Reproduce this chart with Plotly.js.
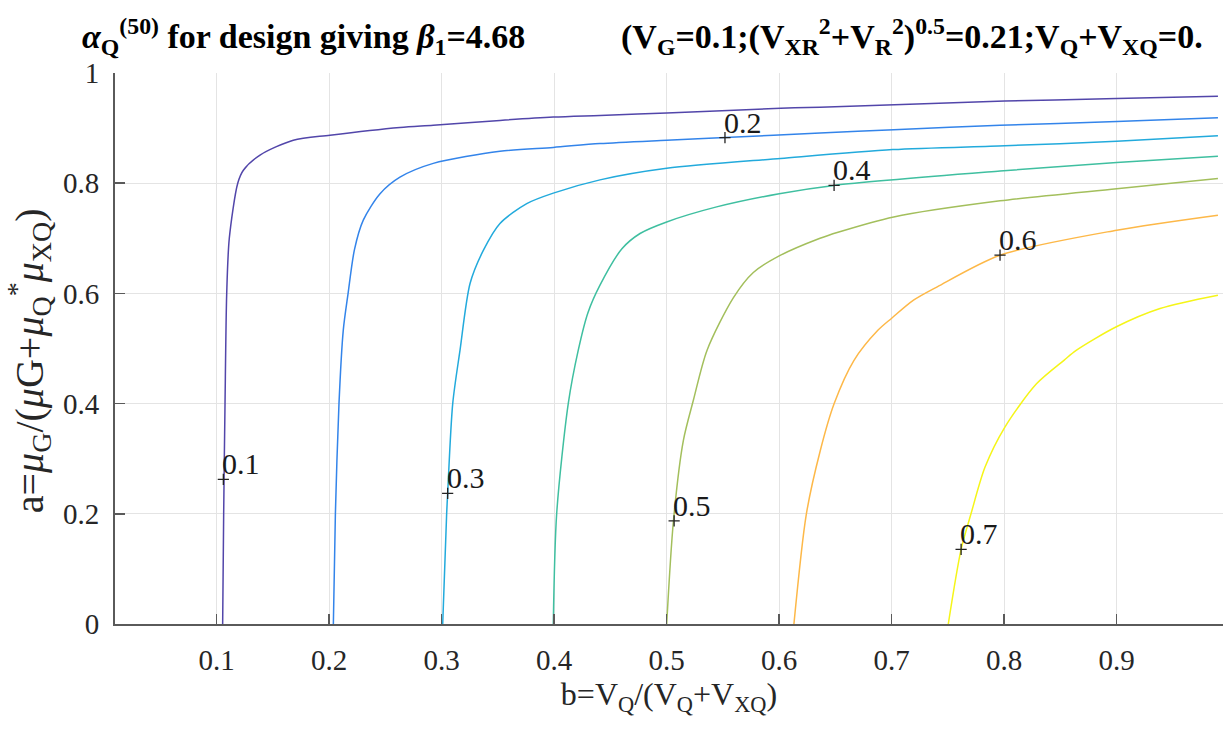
<!DOCTYPE html>
<html>
<head>
<meta charset="utf-8">
<script src="https://cdn.plot.ly/plotly-3.0.1.min.js"></script>
<style>html,body{margin:0;padding:0;background:#fff;}#chart{width:1223px;height:731px;}</style>
</head>
<body>
<div id="chart"></div>
<script>
// Contour levels of alpha_Q^(50) and their colours (parula)
const levels = [0.1, 0.2, 0.3, 0.4, 0.5, 0.6, 0.7];
const levelColors = ['#5246aa', '#3384ea', '#22aadc', '#3fbfa0', '#a3bf5c', '#fdb848', '#f5f518'];

// Contour line points: b (x) and a (y)
const c01_b = [0.1053, 0.1062, 0.1074, 0.1089, 0.1112, 0.1187, 0.1237, 0.1385, 0.1681, 0.2007, 0.2629, 0.2925, 0.3518, 0.3992, 0.4407, 0.5000, 0.6013, 0.6363, 0.8005, 0.9000, 0.9900];
const c01_a = [0.000, 0.200, 0.400, 0.600, 0.700, 0.800, 0.8235, 0.851, 0.878, 0.887, 0.901, 0.905, 0.914, 0.920, 0.923, 0.9275, 0.936, 0.938, 0.949, 0.9535, 0.958];

const c02_b = [0.2037, 0.2055, 0.2087, 0.2125, 0.2168, 0.2225, 0.2303, 0.2452, 0.2629, 0.2925, 0.3518, 0.3992, 0.4407, 0.5000, 0.5518, 0.6363, 0.7018, 0.7963, 0.9000, 0.9900];
const c02_a = [0.000, 0.200, 0.400, 0.533, 0.600, 0.680, 0.733, 0.781, 0.811, 0.836, 0.858, 0.865, 0.872, 0.878, 0.8828, 0.891, 0.897, 0.905, 0.912, 0.919];

const c03_b = [0.3009, 0.3044, 0.3053, 0.3098, 0.3163, 0.3252, 0.3370, 0.3518, 0.3756, 0.3992, 0.4407, 0.5000, 0.6013, 0.7010, 0.8005, 0.9000, 0.9900];
const c03_a = [0.000, 0.200, 0.237, 0.400, 0.497, 0.618, 0.678, 0.727, 0.763, 0.782, 0.806, 0.827, 0.845, 0.861, 0.868, 0.876, 0.886];

const c04_b = [0.3992, 0.4022, 0.4125, 0.4214, 0.4300, 0.4407, 0.4602, 0.4763, 0.5000, 0.5444, 0.6000, 0.6488, 0.7963, 0.9000, 0.9900];
const c04_a = [0.000, 0.200, 0.400, 0.497, 0.565, 0.615, 0.681, 0.7087, 0.7297, 0.757, 0.781, 0.796, 0.822, 0.8375, 0.849];

const c05_b = [0.5000, 0.5060, 0.5148, 0.5237, 0.5359, 0.5592, 0.5770, 0.6000, 0.6363, 0.6523, 0.7018, 0.7963, 0.9000, 0.9900];
const c05_a = [0.000, 0.187, 0.333, 0.406, 0.497, 0.592, 0.638, 0.668, 0.700, 0.711, 0.7388, 0.768, 0.790, 0.8085];

const c06_b = [0.6131, 0.6241, 0.6365, 0.6488, 0.6665, 0.6877, 0.7000, 0.7194, 0.7405, 0.7963, 0.9000, 0.9900];
const c06_a = [0.000, 0.199, 0.3145, 0.3996, 0.4785, 0.533, 0.555, 0.5877, 0.612, 0.6693, 0.7147, 0.742];

const c07_b = [0.7503, 0.7617, 0.7705, 0.7829, 0.8005, 0.8287, 0.8534, 0.8640, 0.8993, 0.9385, 0.9900];
const c07_a = [0.000, 0.1355, 0.200, 0.2843, 0.357, 0.4359, 0.479, 0.4966, 0.539, 0.5726, 0.5968];

// Contour labels (clabel '+' positions)
const labelText = ['0.1', '0.2', '0.3', '0.4', '0.5', '0.6', '0.7'];
const labelB = [0.1059, 0.5518, 0.3053, 0.6488, 0.5066, 0.7963, 0.7617];
const labelA = [0.2625, 0.8828, 0.2370, 0.7960, 0.1870, 0.6693, 0.1355];

// Axis ticks
const xTicks = [0.1, 0.2, 0.3, 0.4, 0.5, 0.6, 0.7, 0.8, 0.9];
const xTickText = ['0.1', '0.2', '0.3', '0.4', '0.5', '0.6', '0.7', '0.8', '0.9'];
const yTicks = [0, 0.2, 0.4, 0.6, 0.8, 1];
const yTickText = ['0', '0.2', '0.4', '0.6', '0.8', '1'];

const curvesB = [c01_b, c02_b, c03_b, c04_b, c05_b, c06_b, c07_b];
const curvesA = [c01_a, c02_a, c03_a, c04_a, c05_a, c06_a, c07_a];

const FONT = '"Liberation Serif", "Times New Roman", serif';

const traces = curvesB.map((bs, i) => ({
  type: 'scatter', mode: 'lines', x: bs, y: curvesA[i],
  line: {color: levelColors[i], width: 1.5, shape: 'spline', smoothing: 0.8},
  name: String(levels[i]), showlegend: false, hoverinfo: 'skip'
}));

traces.push({
  type: 'scatter', mode: 'markers', x: labelB, y: labelA,
  marker: {symbol: 'cross-thin', size: 8, line: {width: 1.3, color: '#222'}, color: '#222'},
  showlegend: false, hoverinfo: 'skip'
});

const annotations = labelText.map((t, i) => ({
  x: labelB[i], y: labelA[i], xref: 'x', yref: 'y', text: t,
  showarrow: false, xanchor: 'left', yanchor: 'bottom', xshift: -3, yshift: -3,
  font: {family: FONT, size: 30, color: '#1a1a1a'}
}));

// Title (two parts, as in the figure)
annotations.push({
  xref: 'paper', yref: 'paper', x: -0.032, y: 1.02, xanchor: 'left', yanchor: 'bottom',
  showarrow: false,
  text: '<b><i>α</i><sub>Q</sub><sup>(50)</sup> for design giving <i>β</i><sub>1</sub>=4.68</b>',
  font: {family: FONT, size: 34, color: '#000'}
});
annotations.push({
  xref: 'paper', yref: 'paper', x: 0.455, y: 1.02, xanchor: 'left', yanchor: 'bottom',
  showarrow: false,
  text: '<b>(V<sub>G</sub>=0.1;(V<sub>XR</sub><sup>2</sup>+V<sub>R</sub><sup>2</sup>)<sup>0.5</sup>=0.21;V<sub>Q</sub>+V<sub>XQ</sub>=0.</b>',
  font: {family: FONT, size: 34, color: '#000'}
});
// y-axis title
annotations.push({
  xref: 'paper', yref: 'paper', x: -0.078, y: 0.478, xanchor: 'center', yanchor: 'middle',
  showarrow: false, textangle: -90,
  text: 'a=<i>μ</i><sub>G</sub>/(<i>μ</i>G+<i>μ</i><sub>Q</sub><sup>*</sup><i>μ</i><sub>XQ</sub>)',
  font: {family: FONT, size: 40, color: '#262626'}
});

const layout = {
  width: 1223, height: 731,
  margin: {l: 115, r: 0, t: 73, b: 107, pad: 0},
  paper_bgcolor: '#fff', plot_bgcolor: '#fff',
  showlegend: false,
  font: {family: FONT, color: '#262626'},
  xaxis: {
    range: [0.0096, 0.9945], tickvals: xTicks, ticktext: xTickText,
    showgrid: true, gridcolor: '#e4e4e4', gridwidth: 1,
    showline: true, linecolor: '#5a5a5a', linewidth: 2, mirror: false,
    zeroline: false, ticks: 'inside', ticklen: 10, tickwidth: 1.5, tickcolor: '#5a5a5a',
    tickfont: {family: FONT, size: 29, color: '#262626'}, ticklabelstandoff: 9,
    title: {text: 'b=V<sub>Q</sub>/(V<sub>Q</sub>+V<sub>XQ</sub>)', font: {family: FONT, size: 32, color: '#262626'}, standoff: 7}
  },
  yaxis: {
    range: [0, 1], tickvals: yTicks, ticktext: yTickText,
    showgrid: true, gridcolor: '#e4e4e4', gridwidth: 1,
    showline: true, linecolor: '#5a5a5a', linewidth: 2, mirror: false,
    zeroline: false, ticks: 'inside', ticklen: 10, tickwidth: 1.5, tickcolor: '#5a5a5a',
    tickfont: {family: FONT, size: 29, color: '#262626'}, ticklabelstandoff: 8
  },
  annotations: annotations
};

Plotly.newPlot('chart', traces, layout, {displayModeBar: false, staticPlot: true});
</script>
</body>
</html>
